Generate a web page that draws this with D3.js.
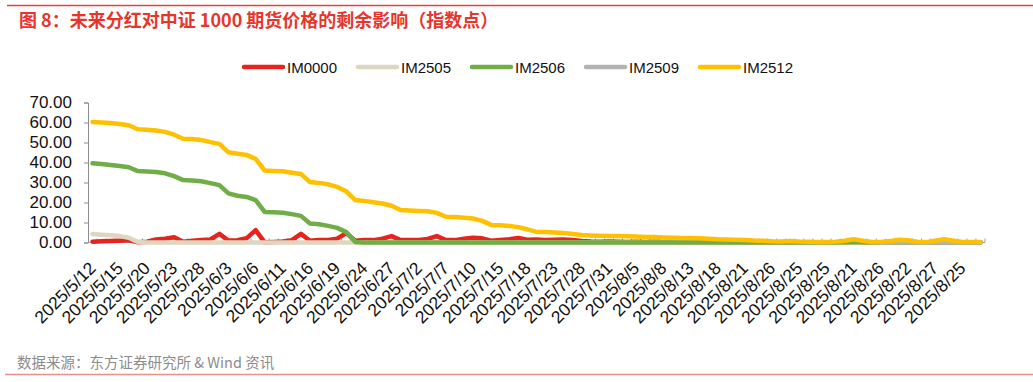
<!DOCTYPE html>
<html>
<head>
<meta charset="utf-8">
<script src="https://cdn.jsdelivr.net/npm/d3@7"></script>
<style>
  body { margin: 0; background: #fff; }
  svg { display: block; font-family: "Liberation Sans", Arial, sans-serif; }
</style>
</head>
<body>
<div id="chart"></div>
<script>
// Trading days shown on the category axis (only every 3rd gets a label)
const dates = [
  "2025/5/12","2025/5/13","2025/5/14","2025/5/15","2025/5/16","2025/5/19","2025/5/20","2025/5/21","2025/5/22","2025/5/23",
  "2025/5/26","2025/5/27","2025/5/28","2025/5/29","2025/5/30","2025/6/3","2025/6/4","2025/6/5","2025/6/6","2025/6/9",
  "2025/6/10","2025/6/11","2025/6/12","2025/6/13","2025/6/16","2025/6/17","2025/6/18","2025/6/19","2025/6/20","2025/6/23",
  "2025/6/24","2025/6/25","2025/6/26","2025/6/27","2025/6/30","2025/7/1","2025/7/2","2025/7/3","2025/7/4","2025/7/7",
  "2025/7/8","2025/7/9","2025/7/10","2025/7/11","2025/7/14","2025/7/15","2025/7/16","2025/7/17","2025/7/18","2025/7/21",
  "2025/7/22","2025/7/23","2025/7/24","2025/7/25","2025/7/28","2025/7/29","2025/7/30","2025/7/31","2025/8/1","2025/8/4",
  "2025/8/5","2025/8/6","2025/8/7","2025/8/8","2025/8/11","2025/8/12","2025/8/13","2025/8/14","2025/8/15","2025/8/18",
  "2025/8/19","2025/8/20","2025/8/21","2025/8/22","2025/8/25","2025/8/26","2025/8/27","2025/8/22","2025/8/25","2025/8/26",
  "2025/8/21","2025/8/25","2025/8/27","2025/8/22","2025/8/21","2025/8/25","2025/8/22","2025/8/26","2025/8/21","2025/8/27",
  "2025/8/22","2025/8/26","2025/8/25","2025/8/27","2025/8/21","2025/8/22","2025/8/25","2025/8/26","2025/8/27"
];

const seriesNames = ["IM0000", "IM2505", "IM2506", "IM2509", "IM2512"];
const seriesColors = ["#e8231e", "#ddd6c0", "#70ad47", "#b3b3b3", "#ffc000"];

const im0000 = [
  0.4,0.6,0.7,0.9,1.2,0.1,0.4,1.5,1.9,2.6, 0.4,0.9,1.2,1.5,4.3,1.0,1.1,2.1,6.2,0.1,
  0.3,0.5,1.2,4.3,0.9,1.2,1.3,1.9,4.7,0.9, 1.2,1.2,1.9,3.2,1.2,1.2,1.3,1.8,3.2,1.2,
  1.2,1.9,2.4,2.1,0.9,1.2,1.6,2.3,1.4,1.5, 1.3,1.4,1.5,1.3,0.8,0.5,0.4,0.5,0.4,0.3,
  0.4,0.3,0.4,0.3,0.3,0.2,0.3,0.2,0.2,0.3, 0.2,0.2,0.1,0.2,0.1,0.1,0.1,0.2,0.1,0.1,
  0.1,0.1,0.1,0.1,0.2,0.1,0.1,0.1,0.1,0.1, 0.1,0.1,0.1,0.1,0.2,0.1,0.1,0.1,0.1
];
const im2505 = [
  4.2,3.9,3.6,3.2,2.4,0.2,0,0,0,0, 0,0,0,0,0,0,0,0,0,0,
  0,0,0,0,0,0,0,0,0,0, 0,0,0,0,0,0,0,0,0,0,
  0,0,0,0,0,0,0,0,0,0, 0,0,0,0,0,0,0,0,0,0,
  0,0,0,0,0,0,0,0,0,0, 0,0,0,0,0,0,0,0,0,0,
  0,0,0,0,0,0,0,0,0,0, 0,0,0,0,0,0,0,0,0
];
const im2506 = [
  39.6,39.2,38.7,38.2,37.6,35.7,35.5,35.2,34.6,33.2, 31.2,31.0,30.6,29.7,28.7,24.6,23.4,22.8,21.2,15.3,
  15.1,14.9,14.2,13.3,9.5,9.1,8.3,7.3,5.2,0.3, 0,0,0,0,0,0,0,0,0,0,
  0,0,0,0,0,0,0,0,0,0, 0,0,0,0,0,0,0,0,0,0,
  0,0,0,0,0,0,0,0,0,0, 0,0,0,0,0,0,0,0,0,0,
  0,0,0,0.1,0.3,0.1,0,0,0,0, 0,0,0,0,0,0,0,0,0
];
const im2509 = [
  null,null,null,null,null,null,null,null,null,null, null,null,null,null,null,null,null,null,null,null,
  null,null,null,null,null,null,null,null,null,null, null,null,null,null,null,null,null,null,null,null,
  null,null,null,null,null,null,null,null,null,null, null,null,null,null,null,null,null,null,null,null,
  null,null,null,null,null,null,null,null,null,null, null,null,null,null,null,null,null,null,null,null,
  null,null,null,null,null,null,null,0,0,0.1, 0.1,0,0,0,0.1,0,0,0,0
];
const im2512 = [
  60.3,60.0,59.7,59.2,58.6,56.6,56.4,56.0,55.3,53.9, 51.9,51.7,51.3,50.2,49.3,45.1,44.4,43.8,41.8,36.0,
  35.8,35.6,34.9,34.3,30.2,29.8,29.1,27.8,25.6,21.2, 20.8,20.1,19.5,18.4,16.2,16.0,15.8,15.6,14.8,12.9,
  12.7,12.4,12.0,10.8,8.8,8.6,8.3,7.6,6.6,5.3, 5.2,5.0,4.8,4.2,3.7,3.5,3.4,3.3,3.2,3.1,
  3.0,2.8,2.7,2.5,2.4,2.3,2.2,2.1,1.9,1.6, 1.5,1.4,1.3,1.0,0.9,0.6,0.5,0.8,0.5,0.4,
  0.3,0.3,0.4,0.9,1.6,0.9,0.3,0.2,0.7,1.4, 1.1,0.4,0.2,0.9,1.6,0.9,0.3,0.2,0.2
];
const allSeries = [im0000, im2505, im2506, im2509, im2512];

const yTicks = [0, 10, 20, 30, 40, 50, 60, 70];

const W = 1033, H = 382;
const plot = { left: 88, right: 985, top: 102.5, bottom: 242.5 };

const svg = d3.select("#chart").append("svg")
  .attr("width", W)
  .attr("height", H);

// Header / footer rules and texts
svg.append("line")
  .attr("x1", 7).attr("x2", W)
  .attr("y1", 5.5).attr("y2", 5.5)
  .attr("stroke", "#e8403a")
  .attr("stroke-width", 1.5);

svg.append("text")
  .attr("x", 19)
  .attr("y", 27)
  .attr("fill", "#e8352b")
  .style("font-family", "'Noto Sans CJK SC', sans-serif")
  .style("font-weight", "bold")
  .style("font-size", "18px")
  .text("图 8：未来分红对中证 1000 期货价格的剩余影响（指数点）");

svg.append("text")
  .attr("x", 17)
  .attr("y", 368)
  .attr("fill", "#8c8c8c")
  .style("font-family", "'Noto Sans CJK SC', sans-serif")
  .style("font-size", "14.5px")
  .text("数据来源：东方证券研究所 & Wind 资讯");

svg.append("line")
  .attr("x1", 5).attr("x2", W)
  .attr("y1", 374.5).attr("y2", 374.5)
  .attr("stroke", "#e8908a")
  .attr("stroke-width", 1.5);

// Scales
const x = d3.scaleBand()
  .domain(d3.range(dates.length))
  .range([plot.left, plot.right])
  .paddingInner(0)
  .paddingOuter(0);

const y = d3.scaleLinear()
  .domain([0, 70])
  .range([plot.bottom, plot.top]);

// Y axis
const yAxis = svg.append("g")
  .attr("transform", `translate(${plot.left},0)`)
  .call(d3.axisLeft(y).tickValues(yTicks).tickFormat(d3.format(".2f")).tickSize(4).tickPadding(12));
yAxis.select(".domain").attr("stroke", "#8c8c8c");
yAxis.selectAll(".tick line").attr("stroke", "#8c8c8c");
yAxis.selectAll("text")
  .style("font-size", "17px")
  .attr("fill", "#111");

// X axis: line + inner ticks between categories
svg.append("line")
  .attr("x1", plot.left).attr("x2", plot.right)
  .attr("y1", plot.bottom).attr("y2", plot.bottom)
  .attr("stroke", "#a0a0a0");

svg.append("g")
  .selectAll("line")
  .data(d3.range(dates.length))
  .enter()
  .append("line")
  .attr("x1", i => x(i) + x.bandwidth())
  .attr("x2", i => x(i) + x.bandwidth())
  .attr("y1", plot.bottom)
  .attr("y2", plot.bottom - 4)
  .attr("stroke", "#a0a0a0");

// Rotated date labels, every third category
svg.append("g")
  .selectAll("text")
  .data(d3.range(0, dates.length, 3))
  .enter()
  .append("text")
  .attr("transform", i => `translate(${x(i) + x.bandwidth() / 2},265) rotate(-45)`)
  .attr("text-anchor", "end")
  .attr("dy", "0.35em")
  .style("font-size", "17.5px")
  .attr("fill", "#111")
  .text(i => dates[i]);

// Lines
const line = d3.line()
  .defined(d => d != null)
  .x((d, i) => x(i) + x.bandwidth() / 2)
  .y(d => y(d));

allSeries.forEach((values, k) => {
  svg.append("path")
    .datum(values)
    .attr("d", line)
    .attr("fill", "none")
    .attr("stroke", seriesColors[k])
    .attr("stroke-width", 4.5)
    .attr("stroke-linejoin", "round")
    .attr("stroke-linecap", "round");
});

// Legend
const legend = svg.append("g")
  .attr("transform", "translate(244,67)");

seriesNames.forEach((name, k) => {
  legend.append("line")
    .attr("x1", k * 114)
    .attr("x2", k * 114 + 39)
    .attr("y1", 0).attr("y2", 0)
    .attr("stroke", seriesColors[k])
    .attr("stroke-width", 4.5)
    .attr("stroke-linecap", "round");

  legend.append("text")
    .attr("x", k * 114 + 43)
    .attr("y", 5.5)
    .style("font-size", "15px")
    .attr("fill", "#111")
    .text(name);
});
</script>
</body>
</html>
